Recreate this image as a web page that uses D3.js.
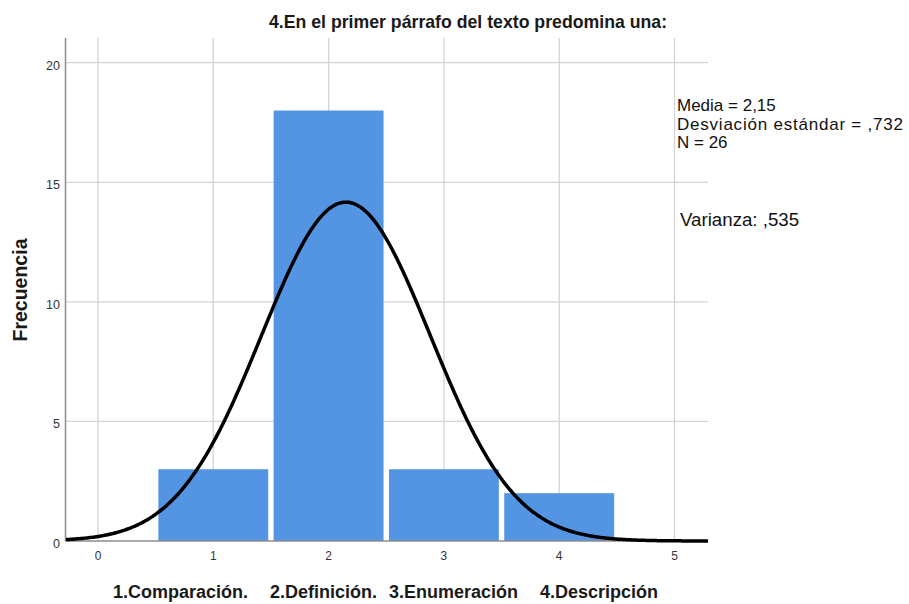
<!DOCTYPE html>
<html><head><meta charset="utf-8">
<script src="https://cdn.jsdelivr.net/npm/d3@7/dist/d3.min.js"></script>
<style>body{margin:0;background:#fff;font-family:"Liberation Sans",Arial,sans-serif;}</style>
</head><body><svg id="c" width="909" height="604"></svg>
<script>
const categories = ["1.Comparación.", "2.Definición.", "3.Enumeración", "4.Descripción"];
const binCenters = [1, 2, 3, 4];
const frequencies = [3, 18, 3, 2];
const xTicks = [0, 1, 2, 3, 4, 5];
const yTicks = [0, 5, 10, 15, 20];
const stats = ["Media = 2,15", "Desviación estándar = ,732", "N = 26"];
const varianceText = "Varianza: ,535";
const mean = 2.15, sd = 0.732, n = 26;
const title = "4.En el primer párrafo del texto predomina una:";

const svg = d3.select("#c");
const x = d3.scaleLinear().domain([0, 5]).range([98, 674.5]);
const y = d3.scaleLinear().domain([0, 20]).range([541, 62.7]);
const xMin = x.invert(66), xMax = x.invert(708);
const yTop = 38;

// gridlines
svg.append("g").selectAll("line").data(xTicks).join("line")
  .attr("x1", d => x(d)).attr("x2", d => x(d)).attr("y1", yTop).attr("y2", 541)
  .attr("stroke", "#d4d4d4").attr("stroke-width", 1.3);
svg.append("g").selectAll("line").data(yTicks.filter(d => d > 0)).join("line")
  .attr("x1", 66).attr("x2", 708).attr("y1", d => y(d)).attr("y2", d => y(d))
  .attr("stroke", "#d4d4d4").attr("stroke-width", 1.3);

// bars
const bw = x(1) - x(0);
svg.append("g").selectAll("rect").data(frequencies).join("rect")
  .attr("x", (d, i) => x(binCenters[i] - 0.5) + 2.7)
  .attr("width", bw - 5.4)
  .attr("y", d => y(d)).attr("height", d => y(0) - y(d))
  .attr("fill", "#5394e3");

// axes lines
svg.append("line").attr("x1", 65.5).attr("x2", 65.5).attr("y1", yTop).attr("y2", 541.5)
  .attr("stroke", "#8c8c8c").attr("stroke-width", 1.5);
svg.append("line").attr("x1", 65).attr("x2", 708).attr("y1", 541).attr("y2", 541)
  .attr("stroke", "#8c8c8c").attr("stroke-width", 1.5);

// normal curve
const pts = d3.range(0, 401).map(i => xMin + (xMax - xMin) * i / 400);
const dens = v => n * Math.exp(-0.5 * ((v - mean) / sd) ** 2) / (sd * Math.sqrt(2 * Math.PI));
svg.append("path").datum(pts)
  .attr("d", d3.line().x(v => x(v)).y(v => y(dens(v))).curve(d3.curveBasis))
  .attr("fill", "none").attr("stroke", "#000").attr("stroke-width", 3.5);

// tick labels
svg.append("g").selectAll("text").data(xTicks).join("text")
  .attr("x", d => x(d)).attr("y", 560).attr("text-anchor", "middle")
  .attr("font-size", 12).attr("fill", "#333").text(d => d);
svg.append("g").selectAll("text").data(yTicks).join("text")
  .attr("x", 60).attr("y", d => y(d) + 7).attr("text-anchor", "end")
  .attr("font-size", 12.5).attr("fill", "#333").text(d => d);

// y label
svg.append("text").attr("transform", "translate(27,290) rotate(-90)")
  .attr("text-anchor", "middle").attr("font-size", 19.5).attr("font-weight", "bold")
  .attr("fill", "#1a1a1a").text("Frecuencia");

// title
svg.append("text").attr("x", 468).attr("y", 28).attr("text-anchor", "middle")
  .attr("font-size", 17.7).attr("font-weight", "bold").attr("fill", "#1a1a1a").text(title);

// category labels
const catX = [113, 270, 389, 540];
svg.append("g").selectAll("text").data(categories).join("text")
  .attr("x", (d, i) => catX[i]).attr("y", 598)
  .attr("font-size", 18).attr("font-weight", "bold").attr("fill", "#1a1a1a").text(d => d);

// stats
svg.append("g").selectAll("text").data(stats).join("text")
  .attr("x", 677).attr("y", (d, i) => 111 + i * 18.5)
  .attr("font-size", 17).attr("fill", "#111")
  .attr("textLength", (d, i) => i === 1 ? 226 : null)
  .attr("lengthAdjust", "spacing")
  .text(d => d);
svg.append("text").attr("x", 680).attr("y", 226)
  .attr("font-size", 18.7).attr("fill", "#111").text(varianceText);
</script></body></html>
